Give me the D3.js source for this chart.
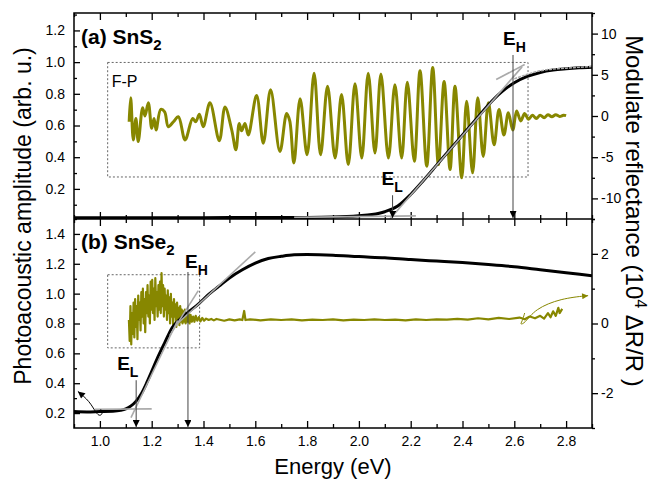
<!DOCTYPE html>
<html>
<head>
    <meta charset="utf-8">
    <script src="https://cdn.jsdelivr.net/npm/d3@7"></script>
    <style>
        body { margin: 0; background: #fff; }
        text { font-family: Arial, 'Liberation Sans', sans-serif; }
    </style>
</head>

<body>
<div id="chart"></div>

<script>

    // ---- data ----
    var energyTicks = [1.0, 1.2, 1.4, 1.6, 1.8, 2.0, 2.2, 2.4, 2.6, 2.8];
    var energyMinor = [0.9, 1.1, 1.3, 1.5, 1.7, 1.9, 2.1, 2.3, 2.5, 2.7, 2.9];
    var ampTicksA = [0.2, 0.4, 0.6, 0.8, 1.0, 1.2];
    var ampMinorA = [0.1, 0.3, 0.5, 0.7, 0.9, 1.1, 1.3];
    var refTicksA = [-10, -5, 0, 5, 10];
    var refMinorA = [-12.5, -7.5, -2.5, 2.5, 7.5, 12.5];
    var ampTicksB = [0.2, 0.4, 0.6, 0.8, 1.0, 1.2, 1.4];
    var ampMinorB = [0.3, 0.5, 0.7, 0.9, 1.1, 1.3, 1.5];
    var refTicksB = [-2, 0, 2];
    var refMinorB = [-3, -1, 1, 3];

    // (a) SnS2 photoacoustic amplitude
    var pasSnS2 = [[0.9,0.018],[1.2,0.018],[1.5,0.019],[1.8,0.02],[1.9,0.022],[2.0,0.03],[2.05,0.038],
        [2.1,0.056],[2.15,0.092],[2.2,0.165],[2.25,0.255],[2.3,0.35],[2.35,0.445],[2.4,0.54],[2.45,0.635],
        [2.5,0.73],[2.55,0.81],[2.6,0.87],[2.65,0.91],[2.7,0.935],[2.75,0.95],[2.8,0.958],[2.85,0.964],[2.9,0.968]];
    var fitSnS2 = [[2.6,0.895],[2.7,0.945],[2.8,0.962],[2.9,0.972]];
    // (a) SnS2 modulated reflectance, Fabry-Perot fringes
    var fpSnS2 = [[1.113,-0.7],[1.119,2.2],[1.129,-2.9],[1.139,-0.3],[1.148,-3.1],[1.165,1.0],[1.174,0.0],
        [1.187,1.6],[1.200,-1.5],[1.209,-0.3],[1.217,-1.7],[1.235,0.8],[1.250,0.5],[1.264,-1.3],[1.284,-0.7],
        [1.303,-0.1],[1.329,-2.9],[1.358,-0.3],[1.370,-0.7],[1.384,0.2],[1.399,-1.3],[1.425,1.6],[1.461,-3.0],
        [1.483,1.1],[1.509,-1.7],[1.525,-4.1],[1.538,-0.9],[1.547,-1.8],[1.560,-0.9],[1.573,-2.3],[1.605,2.5],
        [1.631,-3.3],[1.659,3.2],[1.695,-4.3],[1.721,0.3],[1.733,-0.6],[1.749,-5.7],[1.773,2.1],[1.800,-4.7],
        [1.827,5.2],[1.852,-4.7],[1.879,3.6],[1.908,-5.1],[1.933,2.6],[1.959,-5.9],[1.985,3.9],[2.011,-5.1],
        [2.036,5.2],[2.062,-4.5],[2.085,5.1],[2.114,-5.1],[2.139,3.8],[2.165,-5.1],[2.187,4.1],[2.214,-5.5],
        [2.236,5.5],[2.262,-6.1],[2.285,5.9],[2.307,-5.9],[2.329,4.2],[2.352,-6.5],[2.371,3.6],[2.397,-7.5],
        [2.416,1.8],[2.439,-6.9],[2.459,2.2],[2.480,-4.9],[2.500,1.6],[2.522,-3.5],[2.541,0.8],[2.560,-2.3],
        [2.577,0.4],[2.594,-1.7],[2.609,0.6],[2.625,-0.6],[2.640,0.3],[2.655,-0.4],[2.670,0.1],[2.685,-0.3],
        [2.700,0.1],[2.715,-0.2],[2.730,0.15],[2.745,-0.1],[2.760,0.15],[2.775,-0.05],[2.790,0.1],[2.800,0.05]];

    // (b) SnSe2 photoacoustic amplitude
    var pasSnSe2 = [[0.9,0.21],[0.95,0.208],[1.0,0.21],[1.05,0.212],[1.08,0.218],[1.1,0.228],[1.12,0.248],
        [1.14,0.28],[1.16,0.33],[1.18,0.4],[1.2,0.48],[1.22,0.56],[1.25,0.67],[1.28,0.775],[1.31,0.83],
        [1.34,0.875],[1.38,0.93],[1.42,0.995],[1.46,1.05],[1.5,1.105],[1.55,1.16],[1.6,1.205],[1.65,1.235],
        [1.7,1.25],[1.75,1.26],[1.8,1.262],[1.9,1.258],[2.0,1.248],[2.1,1.24],[2.2,1.228],[2.3,1.218],
        [2.4,1.208],[2.5,1.195],[2.6,1.18],[2.7,1.16],[2.8,1.14],[2.9,1.12]];
    // (b) SnSe2 modulated reflectance
    var fpSnSe2 = [[1.112,0.1],[1.115,-0.5],[1.118,0.5],[1.121,-0.6],[1.124,0.3],[1.127,-0.3],[1.130,0.6],
        [1.133,-0.4],[1.136,0.7],[1.139,-0.1],[1.142,0.5],[1.145,-0.45],[1.148,0.8],[1.151,0.1],[1.154,0.6],
        [1.157,-0.2],[1.160,0.9],[1.163,0.2],[1.166,1.0],[1.169,0.0],[1.172,0.7],[1.175,-0.25],[1.178,0.9],
        [1.181,0.3],[1.184,1.1],[1.187,0.2],[1.190,0.8],[1.193,0.0],[1.196,1.2],[1.199,0.4],[1.202,1.25],
        [1.205,0.3],[1.208,1.0],[1.211,0.1],[1.214,1.3],[1.217,0.5],[1.220,0.9],[1.223,0.2],[1.226,1.1],
        [1.229,0.4],[1.232,1.2],[1.235,0.3],[1.238,1.45],[1.241,0.5],[1.244,1.1],[1.247,0.2],[1.250,1.0],
        [1.253,0.4],[1.256,0.8],[1.259,0.1],[1.262,0.95],[1.265,0.3],[1.268,0.75],[1.271,0.0],[1.274,0.85],
        [1.277,0.2],[1.280,0.6],[1.283,-0.05],[1.286,0.7],[1.289,0.2],[1.292,0.55],[1.295,-0.1],[1.298,0.6],
        [1.301,0.1],[1.304,0.45],[1.307,-0.05],[1.310,0.5],[1.313,0.05],[1.316,0.4],[1.319,0.0],[1.322,0.35],
        [1.325,0.05],[1.328,0.4],[1.331,0.0],[1.334,0.3],[1.338,0.05],[1.342,0.3],[1.346,0.0],[1.350,0.25],
        [1.355,0.05],[1.360,0.2],[1.365,0.05],[1.370,0.22],[1.376,0.08],[1.382,0.18],[1.388,0.06],[1.395,0.16],
        [1.402,0.08],[1.41,0.14],[1.42,0.1],[1.43,0.13],[1.44,0.09],[1.45,0.13],[1.48,0.08],[1.50,0.12],
        [1.52,0.09],[1.54,0.12],[1.55,0.1],[1.557,0.36],[1.562,0.1],[1.58,0.12],[1.62,0.09],[1.66,0.12],
        [1.70,0.1],[1.74,0.12],[1.78,0.09],[1.82,0.11],[1.86,0.1],[1.90,0.12],[1.94,0.09],[1.98,0.11],
        [2.02,0.1],[2.06,0.12],[2.10,0.1],[2.14,0.11],[2.18,0.09],[2.22,0.12],[2.26,0.1],[2.30,0.12],
        [2.34,0.11],[2.38,0.13],[2.42,0.11],[2.46,0.15],[2.50,0.12],[2.54,0.16],[2.58,0.13],[2.62,0.17],
        [2.64,0.12],[2.66,0.2],[2.68,0.15],[2.70,0.22],[2.715,0.14],[2.73,0.3],[2.74,0.18],[2.75,0.35],
        [2.76,0.22],[2.77,0.45],[2.775,0.3],[2.785,0.42]];

    // tangent lines used for E_L / E_H
    var tangentsA = [[[1.75,0.02],[2.22,0.03]], [[2.12,0.01],[2.63,0.97]], [[2.53,0.89],[2.64,0.985]]];
    var tangentsB = [[[0.98,0.226],[1.20,0.228]], [[1.12,0.17],[1.30,0.82]], [[1.27,0.72],[1.38,1.02]], [[1.30,0.80],[1.60,1.28]]];
    var edgesA = [{ sub: "L", e: 2.13, top: 0.16 }, { sub: "H", e: 2.595, top: 1.045 }];
    var edgesB = [{ sub: "L", e: 1.14, top: 0.42 }, { sub: "H", e: 1.34, top: 1.145 }];
    var boxA = { e0: 1.03, e1: 2.653, v0: -7.4, v1: 6.5 };
    var boxB = { e0: 1.03, e1: 1.385, v0: -0.7, v1: 1.4 };

    var olive = '#878700';

    var width = 650, height = 483;
    var mLeft = 74, mRight = 592, mTop = 13, mMid = 219, mBottom = 428;

    var svg = d3.select('#chart').append('svg')
        .attr('width', width)
        .attr('height', height);

    var x = d3.scaleLinear().domain([0.9, 2.9]).range([mLeft, mRight]);
    var yA = d3.scaleLinear().domain([0.01, 1.31]).range([mMid, mTop]);
    var yAr = d3.scaleLinear().domain([-12.5, 12.5]).range([mMid, mTop]);
    var yB = d3.scaleLinear().domain([0.1, 1.5]).range([mBottom, mMid]);
    var yBr = d3.scaleLinear().domain([-3, 3]).range([mBottom, mMid]);

    var defs = svg.append('defs');
    defs.append('clipPath').attr('id', 'clipA').append('rect')
        .attr('x', mLeft).attr('y', mTop).attr('width', mRight - mLeft).attr('height', mMid - mTop);
    defs.append('clipPath').attr('id', 'clipB').append('rect')
        .attr('x', mLeft).attr('y', mMid).attr('width', mRight - mLeft).attr('height', mBottom - mMid);
    defs.append('marker').attr('id', 'head').attr('viewBox', '0 0 10 10')
        .attr('refX', 10).attr('refY', 5).attr('markerWidth', 9).attr('markerHeight', 7)
        .attr('markerUnits', 'userSpaceOnUse').attr('orient', 'auto')
        .append('path').attr('d', 'M0,0L10,5L0,10Z').attr('fill', '#000');
    defs.append('marker').attr('id', 'headOlive').attr('viewBox', '0 0 10 10')
        .attr('refX', 10).attr('refY', 5).attr('markerWidth', 9).attr('markerHeight', 6)
        .attr('markerUnits', 'userSpaceOnUse').attr('orient', 'auto')
        .append('path').attr('d', 'M0,0L10,5L0,10Z').attr('fill', olive);

    // ---- axes ----
    var plain = function(d) { return String(d); };
    function styleAxis(g, labels) {
        g.select('.domain').remove();
        g.selectAll('line').attr('stroke', '#000').attr('stroke-width', 1.3);
        g.selectAll('text').attr('font-size', 14).attr('fill', '#000')
            .style('font-family', "Arial, 'Liberation Sans', sans-serif");
        if (!labels) g.selectAll('text').remove();
    }
    function addAxis(axis, tx, ty, labels) {
        svg.append('g').attr('transform', 'translate(' + tx + ',' + ty + ')')
            .call(axis).call(function(g) { styleAxis(g, labels); });
    }

    // x axes: bottom (labelled), shared middle line, top
    addAxis(d3.axisBottom(x).tickValues(energyTicks).tickFormat(d3.format('.1f')).tickSize(-7).tickPadding(8), 0, mBottom, true);
    addAxis(d3.axisBottom(x).tickValues(energyMinor).tickSize(-4), 0, mBottom, false);
    addAxis(d3.axisBottom(x).tickValues(energyTicks).tickSize(-7), 0, mMid, false);
    addAxis(d3.axisBottom(x).tickValues(energyMinor).tickSize(-4), 0, mMid, false);
    addAxis(d3.axisTop(x).tickValues(energyTicks).tickSize(-7), 0, mMid, false);
    addAxis(d3.axisTop(x).tickValues(energyMinor).tickSize(-4), 0, mMid, false);
    addAxis(d3.axisTop(x).tickValues(energyTicks).tickSize(-7), 0, mTop, false);
    addAxis(d3.axisTop(x).tickValues(energyMinor).tickSize(-4), 0, mTop, false);

    // left axes (ticks inward)
    addAxis(d3.axisLeft(yA).tickValues(ampTicksA).tickFormat(d3.format('.1f')).tickSize(-6).tickPadding(9), mLeft, 0, true);
    addAxis(d3.axisLeft(yA).tickValues(ampMinorA).tickSize(-3), mLeft, 0, false);
    addAxis(d3.axisLeft(yB).tickValues(ampTicksB).tickFormat(d3.format('.1f')).tickSize(-6).tickPadding(9), mLeft, 0, true);
    addAxis(d3.axisLeft(yB).tickValues(ampMinorB).tickSize(-3), mLeft, 0, false);

    // right axes (ticks outward)
    addAxis(d3.axisRight(yAr).tickValues(refTicksA).tickFormat(plain).tickSize(6).tickPadding(3), mRight, 0, true);
    addAxis(d3.axisRight(yAr).tickValues(refMinorA).tickSize(3), mRight, 0, false);
    addAxis(d3.axisRight(yBr).tickValues(refTicksB).tickFormat(plain).tickSize(6).tickPadding(3), mRight, 0, true);
    addAxis(d3.axisRight(yBr).tickValues(refMinorB).tickSize(3), mRight, 0, false);

    // ---- panel (a) ----
    var gA = svg.append('g').attr('clip-path', 'url(#clipA)');

    gA.append('rect')
        .attr('x', x(boxA.e0)).attr('y', yAr(boxA.v1))
        .attr('width', x(boxA.e1) - x(boxA.e0)).attr('height', yAr(boxA.v0) - yAr(boxA.v1))
        .attr('fill', 'none').attr('stroke', '#666').attr('stroke-width', 1).attr('stroke-dasharray', '2,2');

    gA.append('path').datum(fpSnS2)
        .attr('d', d3.line().x(function(d) { return x(d[0]); }).y(function(d) { return yAr(d[1]); })
            .curve(d3.curveCatmullRom.alpha(0.5)))
        .attr('fill', 'none').attr('stroke', olive).attr('stroke-width', 3);

    var lineA = d3.line().x(function(d) { return x(d[0]); }).y(function(d) { return yA(d[1]); });
    gA.append('path').datum(pasSnS2)
        .attr('d', lineA.curve(d3.curveMonotoneX))
        .attr('fill', 'none').attr('stroke', '#000').attr('stroke-width', 3);
    gA.append('path').datum(fitSnS2)
        .attr('d', lineA.curve(d3.curveMonotoneX))
        .attr('fill', 'none').attr('stroke', '#aaa').attr('stroke-width', 1.5).attr('stroke-dasharray', '3,1');
    gA.selectAll('.tanA').data(tangentsA).enter().append('path')
        .attr('d', d3.line().x(function(d) { return x(d[0]); }).y(function(d) { return yA(d[1]); }))
        .attr('stroke', '#aaa').attr('stroke-width', 1.6).attr('fill', 'none');

    // ---- panel (b) ----
    var gB = svg.append('g').attr('clip-path', 'url(#clipB)');

    gB.append('rect')
        .attr('x', x(boxB.e0)).attr('y', yBr(boxB.v1))
        .attr('width', x(boxB.e1) - x(boxB.e0)).attr('height', yBr(boxB.v0) - yBr(boxB.v1))
        .attr('fill', 'none').attr('stroke', '#666').attr('stroke-width', 1).attr('stroke-dasharray', '2,2');

    gB.append('path').datum(fpSnSe2)
        .attr('d', d3.line().x(function(d) { return x(d[0]); }).y(function(d) { return yBr(d[1]); }))
        .attr('fill', 'none').attr('stroke', olive).attr('stroke-width', 2.2).attr('stroke-linejoin', 'round');

    gB.append('path').datum(pasSnSe2)
        .attr('d', d3.line().x(function(d) { return x(d[0]); }).y(function(d) { return yB(d[1]); })
            .curve(d3.curveMonotoneX))
        .attr('fill', 'none').attr('stroke', '#000').attr('stroke-width', 3);
    gB.selectAll('.tanB').data(tangentsB).enter().append('path')
        .attr('d', d3.line().x(function(d) { return x(d[0]); }).y(function(d) { return yB(d[1]); }))
        .attr('stroke', '#aaa').attr('stroke-width', 1.6).attr('fill', 'none');

    // curved pointer arrows to the matching axis
    svg.append('path')
        .datum([[1.003,0.225],[1.012,0.2],[1.0,0.178],[0.985,0.2],[0.96,0.28],[0.915,0.345]])
        .attr('d', d3.line().x(function(d) { return x(d[0]); }).y(function(d) { return yB(d[1]); }).curve(d3.curveBasis))
        .attr('fill', 'none').attr('stroke', '#000').attr('stroke-width', 1)
        .attr('marker-end', 'url(#head)');
    svg.append('path')
        .datum([[2.64,0.3],[2.63,0.05],[2.622,-0.03],[2.64,0.0],[2.68,0.42],[2.78,0.72],[2.885,0.8]])
        .attr('d', d3.line().x(function(d) { return x(d[0]); }).y(function(d) { return yBr(d[1]); }).curve(d3.curveBasis))
        .attr('fill', 'none').attr('stroke', olive).attr('stroke-width', 1)
        .attr('marker-end', 'url(#headOlive)');

    // ---- E_L / E_H markers ----
    // label offsets (px) relative to the arrow top: [dx, dy]
    var labelOffA = [[-11, -10], [-10, -10]];
    var labelOffB = [[-19, -10], [-3, -4]];
    function drawEdges(edges, offs, yScale, yBase) {
        edges.forEach(function(d, i) {
            var px = x(d.e), py = yScale(d.top);
            svg.append('line')
                .attr('x1', px).attr('x2', px).attr('y1', py).attr('y2', yBase - 1)
                .attr('stroke', '#444').attr('stroke-width', 1)
                .attr('marker-end', 'url(#head)');
            var t = svg.append('text')
                .attr('x', px + offs[i][0]).attr('y', py + offs[i][1])
                .attr('font-size', 19).attr('font-weight', 'bold').text('E');
            t.append('tspan').attr('dy', 7).attr('font-size', 14).text(d.sub);
        });
    }
    drawEdges(edgesA, labelOffA, yA, mMid);
    drawEdges(edgesB, labelOffB, yB, mBottom);

    // frame
    svg.append('rect').attr('x', mLeft).attr('y', mTop).attr('width', mRight - mLeft).attr('height', mBottom - mTop)
        .attr('fill', 'none').attr('stroke', '#000').attr('stroke-width', 1.5);
    svg.append('line').attr('x1', mLeft).attr('x2', mRight).attr('y1', mMid).attr('y2', mMid)
        .attr('stroke', '#000').attr('stroke-width', 1.5);

    // ---- labels ----
    var la = svg.append('text').attr('x', 81).attr('y', 44).attr('font-size', 21).attr('font-weight', 'bold').text('(a) SnS');
    la.append('tspan').attr('dy', 6).attr('font-size', 15).text('2');
    var lb = svg.append('text').attr('x', 81).attr('y', 249).attr('font-size', 21).attr('font-weight', 'bold').text('(b) SnSe');
    lb.append('tspan').attr('dy', 6).attr('font-size', 15).text('2');

    svg.append('text').attr('x', x(boxA.e0) + 4).attr('y', yAr(boxA.v1) + 25)
        .attr('font-size', 16).text('F-P');

    svg.append('text').attr('x', 333).attr('y', 474)
        .attr('text-anchor', 'middle').attr('font-size', 22).text('Energy (eV)');

    svg.append('text').attr('transform', 'translate(31,216) rotate(-90)')
        .attr('text-anchor', 'middle').attr('font-size', 23).text('Photoacoustic amplitude (arb. u.)');

    var rl = svg.append('text').attr('transform', 'translate(626,211) rotate(90)')
        .attr('text-anchor', 'middle').attr('font-size', 24).text('Modulate reflectance (10');
    rl.append('tspan').attr('dy', -9).attr('font-size', 16).text('4');
    rl.append('tspan').attr('dy', 9).text(' \u0394R/R )');

</script>
</body>
</html>
